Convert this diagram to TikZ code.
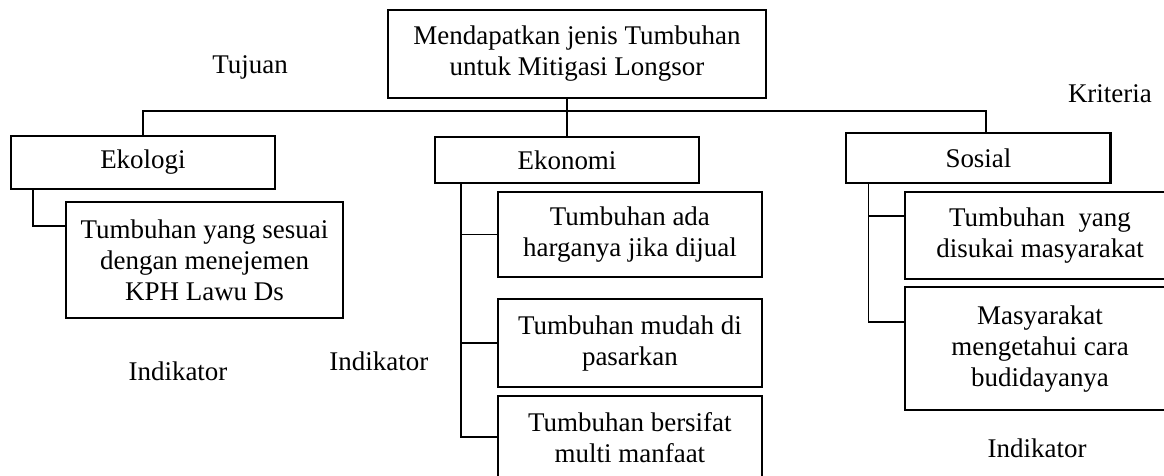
\documentclass[tikz,border=0pt]{standalone}
\usepackage{fontspec}
\setmainfont{Liberation Serif}
\usetikzlibrary{positioning}

\begin{document}
\begin{tikzpicture}[x=0.445pt, y=-0.445pt, node distance=2cm,
    font=\fontsize{12pt}{13.8pt}\selectfont,
    box/.style={rectangle, draw, line width=0.9pt, align=center, inner sep=0pt, minimum width=117.5pt},
    lbl/.style={inner sep=0pt},
    link/.style={line width=0.7pt}]
    \useasboundingbox (0,0) rectangle (1164,475);
    \clip (0,0) rectangle (1164,475);

    \node[box, minimum width=168.2pt, minimum height=39.2pt] (goal) at (577,54) {Mendapatkan jenis Tumbuhan\\untuk Mitigasi Longsor};
    \node[box, node distance=47.2pt, below of=goal, xshift=-4.45pt, minimum height=20.5pt] (ekonomi) {Ekonomi};
    \node[box, node distance=188.7pt, left of=ekonomi, yshift=-1.1pt, minimum height=23.6pt] (ekologi) {Ekologi};
    \node[box, node distance=183.1pt, right of=ekonomi, yshift=0.9pt, minimum height=22.3pt] (sosial) {Sosial};

    \node[box, node distance=43.4pt, below of=ekologi, xshift=27.4pt, minimum width=123.3pt, minimum height=51.6pt] (ekoA) {Tumbuhan yang sesuai\\dengan menejemen\\KPH Lawu Ds};
    \node[box, node distance=33.2pt, below of=ekonomi, xshift=28pt, minimum height=37.8pt] (ekonA) {Tumbuhan ada\\harganya jika dijual};
    \node[box, node distance=48.3pt, below of=ekonA, minimum height=39.2pt] (ekonB) {Tumbuhan mudah di\\pasarkan};
    \node[box, node distance=41.8pt, below of=ekonB, minimum height=36.5pt] (ekonC) {Tumbuhan bersifat\\multi manfaat};
    \node[box, node distance=34.5pt, below of=sosial, xshift=27.4pt, minimum width=120.2pt, minimum height=38.7pt] (sosA) {Tumbuhan~ yang\\disukai masyarakat};
    \node[box, node distance=50.3pt, below of=sosA, minimum width=120.2pt, minimum height=54.7pt] (sosB) {Masyarakat\\mengetahui cara\\budidayanya};

    \node[lbl, node distance=145.5pt, left of=goal, yshift=-5.8pt] (tujuan) {Tujuan};
    \node[lbl, node distance=28.5pt, above of=sosial, xshift=58.5pt] (kriteria) {Kriteria};
    \node[lbl, node distance=49.4pt, below of=ekoA, xshift=-11.8pt] (indEkologi) {Indikator};
    \node[lbl, node distance=111.7pt, left of=ekonB, yshift=-8pt] (indEkonomi) {Indikator};
    \node[lbl, node distance=44.3pt, below of=sosB, xshift=-1.3pt] (indSosial) {Indikator};

    \coordinate[node distance=25.4pt, below of=goal] (bus);
    \draw[link] (ekologi.north) |- (bus) -| ([xshift=3.3pt]sosial.north);
    \draw[link] (goal.south -| ekonomi.north) -- (ekonomi.north);

    \draw[link] ([xshift=10.2pt]ekologi.south west) |- ([yshift=-11.1pt]ekoA.north west);

    \coordinate (ekonBar) at ([xshift=12pt]ekonomi.south west);
    \draw[link] (ekonBar) |- (ekonC.west);
    \draw[link] (ekonA.west) -- (ekonA.west -| ekonBar);
    \draw[link] (ekonB.west) -- (ekonB.west -| ekonBar);

    \coordinate (sosBar) at ([xshift=10.2pt]sosial.south west);
    \coordinate (sosJoinA) at ([yshift=-11.1pt]sosA.north west);
    \coordinate (sosJoinB) at ([yshift=-16pt]sosB.north west);
    \draw[link] (sosBar) |- (sosJoinB);
    \draw[link] (sosJoinA) -- (sosJoinA -| sosBar);
\end{tikzpicture}
\end{document}
